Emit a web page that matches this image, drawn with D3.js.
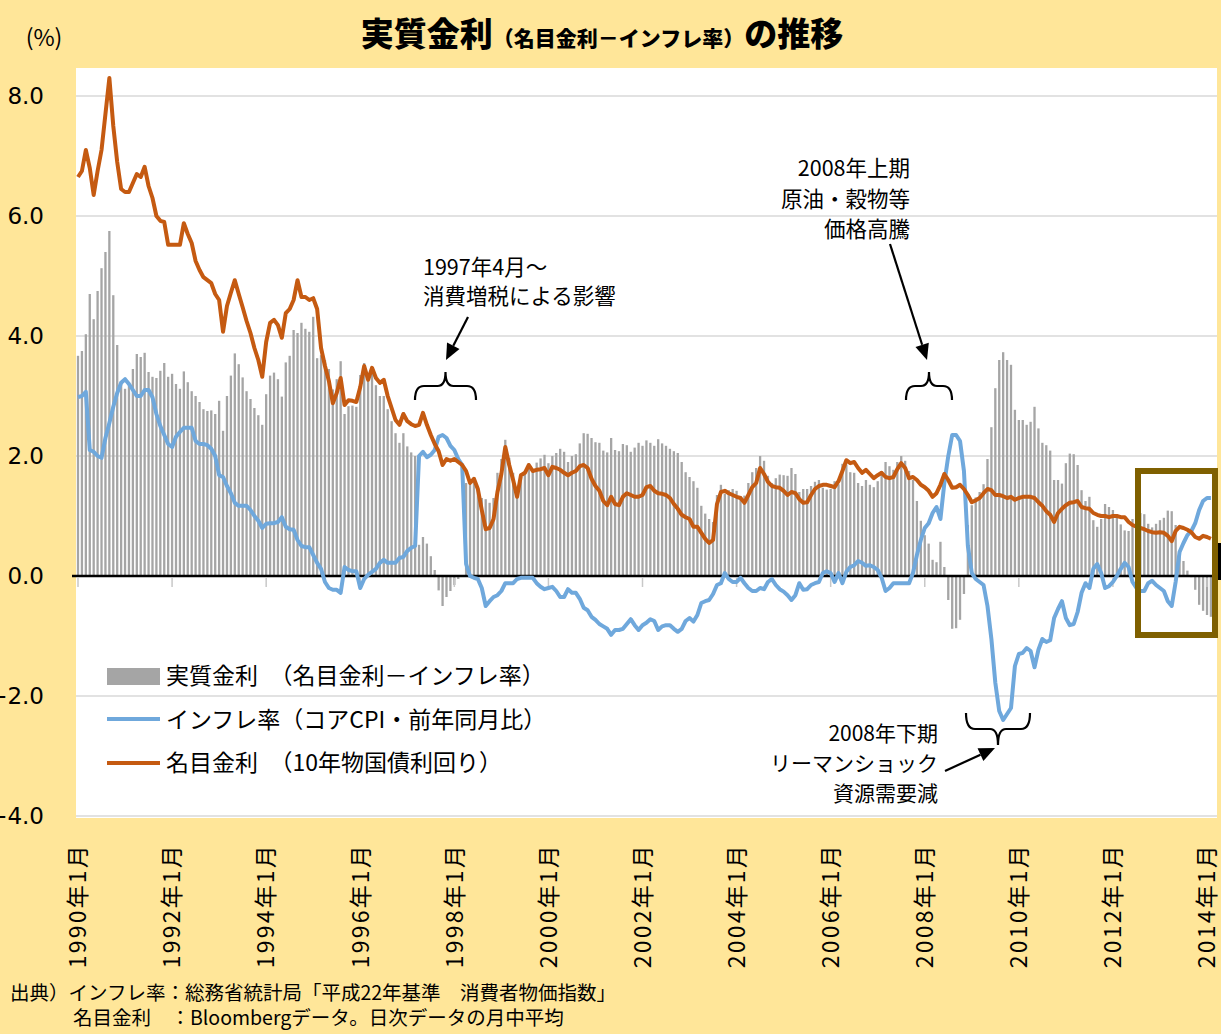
<!DOCTYPE html>
<html><head><meta charset="utf-8">
<script src="https://cdn.jsdelivr.net/npm/d3@7"></script>
<style>body{margin:0;background:#FFE699;} svg{display:block;}</style>
</head><body>
<svg id="c" width="1221" height="1034"></svg>
<script>
// Monthly data, 1990年1月 .. 2014年2月
const startYear = 1990;
const nominal = [
 6.65,6.75,7.10,6.80,6.35,6.75,7.10,7.70,8.30,7.50,6.90,6.45,
 6.40,6.40,6.55,6.70,6.65,6.82,6.50,6.30,6.00,5.92,5.90,5.52,
 5.52,5.52,5.52,5.88,5.70,5.55,5.25,5.10,4.98,4.93,4.88,4.70,
 4.60,4.07,4.50,4.72,4.93,4.70,4.48,4.25,4.05,3.80,3.60,3.32,
 3.90,4.22,4.27,4.18,3.97,4.38,4.45,4.60,4.93,4.65,4.65,4.60,
 4.63,4.45,3.80,3.50,3.25,2.88,3.05,3.30,2.85,2.93,2.92,2.90,
 3.15,3.50,3.27,3.47,3.30,3.22,3.27,3.00,2.80,2.60,2.52,2.70,
 2.58,2.53,2.50,2.52,2.72,2.52,2.35,2.20,2.08,1.85,1.95,1.92,
 1.95,1.90,1.85,1.75,1.55,1.62,1.45,1.10,0.78,0.80,0.95,1.40,
 1.70,2.15,1.85,1.60,1.32,1.68,1.72,1.85,1.75,1.77,1.78,1.80,
 1.68,1.82,1.80,1.77,1.72,1.68,1.72,1.75,1.83,1.85,1.80,1.62,
 1.50,1.42,1.25,1.18,1.32,1.20,1.18,1.32,1.38,1.35,1.32,1.32,
 1.35,1.48,1.50,1.42,1.38,1.37,1.35,1.30,1.20,1.12,1.02,0.98,
 0.95,0.82,0.82,0.72,0.62,0.55,0.60,1.20,1.40,1.42,1.38,1.35,
 1.32,1.30,1.22,1.35,1.48,1.55,1.80,1.70,1.57,1.50,1.48,1.47,
 1.42,1.35,1.40,1.38,1.28,1.22,1.23,1.35,1.45,1.50,1.52,1.52,
 1.50,1.48,1.58,1.75,1.93,1.88,1.90,1.80,1.72,1.77,1.70,1.63,
 1.68,1.72,1.65,1.63,1.65,1.78,1.88,1.80,1.63,1.65,1.60,1.52,
 1.48,1.42,1.32,1.38,1.52,1.70,1.60,1.47,1.48,1.52,1.45,1.35,
 1.23,1.26,1.30,1.38,1.45,1.43,1.35,1.35,1.33,1.30,1.32,1.27,
 1.30,1.32,1.32,1.32,1.30,1.23,1.17,1.08,1.02,0.90,1.05,1.12,
 1.18,1.22,1.23,1.25,1.15,1.13,1.12,1.05,1.02,1.00,1.00,0.98,
 1.00,1.00,0.98,0.98,0.90,0.85,0.82,0.80,0.78,0.75,0.73,0.72,
 0.73,0.72,0.67,0.58,0.75,0.82,0.80,0.77,0.73,0.65,0.62,0.67,
 0.65,0.62
];
const inflation = [
 2.98,3.00,3.07,2.10,2.07,2.00,1.97,2.30,2.55,2.82,3.05,3.22,
 3.28,3.20,3.10,3.00,3.00,3.10,3.10,2.98,2.70,2.50,2.35,2.20,
 2.15,2.32,2.40,2.47,2.47,2.47,2.25,2.20,2.20,2.18,2.12,2.00,
 1.68,1.65,1.50,1.38,1.22,1.17,1.17,1.17,1.10,1.00,0.92,0.80,
 0.87,0.88,0.88,0.90,0.98,0.82,0.78,0.77,0.60,0.50,0.48,0.48,
 0.35,0.22,0.12,-0.10,-0.20,-0.23,-0.23,-0.28,0.15,0.10,0.08,0.08,
 -0.20,-0.05,0.02,0.07,0.12,0.22,0.27,0.22,0.22,0.22,0.30,0.32,
 0.42,0.47,0.50,2.00,2.07,1.98,2.02,2.10,2.32,2.35,2.30,2.17,
 2.10,1.95,1.85,0.20,0.00,-0.03,-0.05,-0.20,-0.50,-0.42,-0.35,-0.32,
 -0.25,-0.12,-0.12,-0.12,-0.05,-0.03,-0.03,-0.03,-0.03,-0.12,-0.18,-0.22,
 -0.20,-0.18,-0.25,-0.35,-0.35,-0.22,-0.28,-0.28,-0.38,-0.53,-0.57,-0.68,
 -0.73,-0.80,-0.84,-0.88,-0.98,-0.90,-0.90,-0.88,-0.80,-0.72,-0.82,-0.90,
 -0.82,-0.78,-0.72,-0.75,-0.90,-0.84,-0.82,-0.82,-0.88,-0.93,-0.88,-0.75,
 -0.70,-0.76,-0.65,-0.45,-0.42,-0.40,-0.30,-0.15,-0.12,0.05,-0.05,-0.10,
 -0.10,-0.03,-0.12,-0.20,-0.25,-0.25,-0.20,-0.22,-0.10,-0.05,-0.15,-0.22,
 -0.26,-0.32,-0.40,-0.32,-0.12,-0.23,-0.22,-0.15,-0.12,-0.10,0.05,0.08,
 0.05,-0.10,0.05,-0.12,0.07,0.15,0.18,0.25,0.22,0.17,0.18,0.15,
 0.10,-0.03,-0.25,-0.20,-0.12,-0.12,-0.12,-0.12,-0.12,0.05,0.35,0.60,
 0.80,0.88,1.05,1.15,0.95,1.55,2.00,2.35,2.35,2.25,1.75,0.50,
 0.05,-0.05,-0.10,-0.15,-0.50,-1.05,-1.78,-2.25,-2.40,-2.30,-2.20,-1.50,
 -1.30,-1.28,-1.20,-1.25,-1.52,-1.23,-1.05,-1.10,-1.07,-0.70,-0.55,-0.42,
 -0.70,-0.82,-0.80,-0.60,-0.28,-0.12,-0.20,0.12,0.20,0.05,-0.20,-0.17,
 -0.10,0.00,0.12,0.22,0.15,-0.10,-0.20,-0.25,-0.25,-0.12,-0.08,-0.15,
 -0.20,-0.25,-0.42,-0.50,-0.10,0.40,0.55,0.68,0.75,0.88,1.10,1.25,
 1.30,1.30
];
const realRate = [
 3.67,3.75,4.03,4.70,4.28,4.75,5.13,5.40,5.75,4.68,3.85,3.23,
 3.12,3.20,3.45,3.70,3.65,3.72,3.40,3.32,3.30,3.42,3.55,3.32,
 3.37,3.20,3.12,3.41,3.23,3.08,3.00,2.90,2.78,2.75,2.76,2.70,
 2.92,2.42,3.00,3.34,3.71,3.53,3.31,3.08,2.95,2.80,2.68,2.52,
 3.03,3.34,3.39,3.28,2.99,3.56,3.67,4.10,4.05,4.22,4.12,4.07,
 4.32,3.63,3.68,3.60,3.45,3.11,3.28,3.58,2.70,2.83,2.84,2.82,
 3.35,3.55,3.25,3.40,3.18,3.00,3.00,2.78,2.58,2.38,2.22,2.38,
 2.16,2.06,2.00,0.52,0.65,0.54,0.33,0.10,-0.24,-0.50,-0.35,-0.25,
 -0.15,-0.05,0.00,1.55,1.55,1.65,1.50,1.30,1.28,1.22,1.30,1.72,
 1.95,2.27,1.97,1.72,1.37,1.71,1.75,1.88,1.78,1.89,1.96,2.02,
 1.88,2.00,2.05,2.12,2.07,1.90,2.00,2.03,2.21,2.38,2.37,2.30,
 2.23,2.22,2.09,2.06,2.30,2.10,2.08,2.20,2.18,2.07,2.14,2.22,
 2.17,2.26,2.22,2.17,2.28,2.21,2.17,2.12,2.08,2.05,1.90,1.73,
 1.65,1.58,1.47,1.17,1.04,0.95,0.90,1.35,1.52,1.37,1.43,1.45,
 1.42,1.33,1.34,1.55,1.73,1.80,2.00,1.92,1.67,1.55,1.63,1.69,
 1.68,1.67,1.80,1.70,1.40,1.45,1.45,1.50,1.57,1.60,1.47,1.44,
 1.45,1.58,1.53,1.87,1.86,1.73,1.72,1.55,1.50,1.60,1.52,1.48,
 1.58,1.75,1.90,1.83,1.77,1.90,2.00,1.92,1.75,1.60,1.25,0.92,
 0.68,0.54,0.27,0.23,0.57,0.15,-0.40,-0.88,-0.87,-0.73,-0.30,0.85,
 1.18,1.31,1.40,1.53,1.95,2.48,3.13,3.60,3.73,3.60,3.52,2.77,
 2.60,2.60,2.52,2.57,2.82,2.46,2.22,2.18,2.09,1.60,1.60,1.54,
 1.88,2.04,2.03,1.85,1.43,1.25,1.32,0.93,0.82,0.95,1.20,1.15,
 1.10,1.00,0.86,0.76,0.75,0.95,1.02,1.05,1.03,0.87,0.81,0.87,
 0.93,0.97,1.09,1.08,0.85,0.42,0.25,0.09,-0.02,-0.23,-0.48,-0.58,
 -0.65,-0.68
];
const yTicks = [-4, -2, 0, 2, 4, 6, 8];
const xTickLabels = ["1990年1月","1992年1月","1994年1月","1996年1月","1998年1月","2000年1月","2002年1月","2004年1月","2006年1月","2008年1月","2010年1月","2012年1月","2014年1月"];
const legendLabels = ["実質金利　（名目金利－インフレ率）","インフレ率（コアCPI・前年同月比）","名目金利　（10年物国債利回り）"];
const notes1997 = ["1997年4月～","消費増税による影響"];
const notes2008a = ["2008年上期","原油・穀物等","価格高騰"];
const notes2008b = ["2008年下期","リーマンショック","資源需要減"];
const sourceLines = ["出典）インフレ率：総務省統計局「平成22年基準　消費者物価指数」","名目金利　：Bloombergデータ。日次データの月中平均"];

const JP = '"Noto Sans CJK JP", "Noto Sans", sans-serif';
const svg = d3.select('#c');
const W = 1221, H = 1034;
const plot = {left: 76, right: 1217, top: 68, bottom: 818};
const x = d3.scaleLinear().domain([0, 288]).range([78, 1207]);
const y = d3.scaleLinear().domain([-4, 8]).range([816, 96]);

svg.append('rect').attr('width', W).attr('height', H).attr('fill', '#FFE699');
svg.append('rect').attr('x', plot.left).attr('y', plot.top)
  .attr('width', plot.right - plot.left).attr('height', plot.bottom - plot.top).attr('fill', '#fff');

// gridlines
svg.append('g').selectAll('line').data(yTicks.filter(d => d !== 0)).join('line')
  .attr('x1', plot.left).attr('x2', plot.right)
  .attr('y1', d => y(d)).attr('y2', d => y(d))
  .attr('stroke', '#D9D9D9').attr('stroke-width', 1.5);

// y labels
svg.append('g').selectAll('text').data(yTicks).join('text')
  .attr('x', 44).attr('y', d => y(d)).attr('dy', '0.36em')
  .attr('text-anchor', 'end').attr('font-family', '"DejaVu Sans", sans-serif')
  .attr('font-size', 23).attr('fill', '#000').text(d => d3.format('.1f')(d));
svg.append('text').attr('x', 44).attr('y', 46).attr('text-anchor', 'middle')
  .attr('font-family', JP).attr('font-size', 23).text('(%)');

// bars
const idx = d3.range(realRate.length);
svg.append('g').selectAll('rect').data(idx).join('rect')
  .attr('x', i => x(i) - 1.15).attr('width', 2.3)
  .attr('y', i => Math.min(y(realRate[i]), y(0)))
  .attr('height', i => Math.abs(y(realRate[i]) - y(0)))
  .attr('fill', '#A5A5A5');

// zero line
svg.append('line').attr('x1', 72).attr('x2', plot.right)
  .attr('y1', y(0)).attr('y2', y(0)).attr('stroke', '#000').attr('stroke-width', 2.5);
// x ticks
const tickIdx = xTickLabels.map((d, k) => k * 24);
svg.append('g').selectAll('line').data(tickIdx).join('line')
  .attr('x1', d => x(d)).attr('x2', d => x(d))
  .attr('y1', y(0) + 2).attr('y2', y(0) + 11)
  .attr('stroke', '#C8C8C8').attr('stroke-width', 1.5);

// lines
const lineGen = arr => d3.line().x((d, i) => x(i)).y(d => y(d))(arr);
svg.append('path').attr('d', lineGen(inflation)).attr('fill', 'none')
  .attr('stroke', '#6FA8DC').attr('stroke-width', 4).attr('stroke-linejoin', 'round');
svg.append('path').attr('d', lineGen(nominal)).attr('fill', 'none')
  .attr('stroke', '#C55A11').attr('stroke-width', 4).attr('stroke-linejoin', 'round');

// x labels (rotated)
svg.append('g').selectAll('text').data(xTickLabels).join('text')
  .attr('transform', (d, k) => `translate(${x(k * 24)},843) rotate(-90)`)
  .attr('dy', '0.36em').attr('text-anchor', 'end').attr('letter-spacing', 2.2)
  .attr('font-family', JP).attr('font-size', 23).attr('fill', '#000').text(d => d);

// title
const title = svg.append('text').attr('x', 602).attr('y', 46).attr('text-anchor', 'middle')
  .attr('font-family', JP).attr('font-weight', 900).attr('fill', '#000');
title.append('tspan').attr('font-size', 33).text('実質金利');
title.append('tspan').attr('font-size', 21).text('（名目金利－インフレ率）');
title.append('tspan').attr('font-size', 33).text('の推移');

// legend
const lg = svg.append('g').attr('font-family', JP).attr('font-size', 23);
lg.append('rect').attr('x', 107).attr('y', 668).attr('width', 53).attr('height', 17).attr('fill', '#A5A5A5');
lg.append('line').attr('x1', 107).attr('x2', 160).attr('y1', 719).attr('y2', 719).attr('stroke', '#6FA8DC').attr('stroke-width', 4);
lg.append('line').attr('x1', 107).attr('x2', 160).attr('y1', 763).attr('y2', 763).attr('stroke', '#C55A11').attr('stroke-width', 4);
lg.selectAll('text').data(legendLabels).join('text')
  .attr('x', 166).attr('y', (d, i) => 676 + i * 43.5).attr('dy', '0.36em').text(d => d);

// annotations
const ann = svg.append('g').attr('font-family', JP).attr('font-size', 21.5).attr('fill', '#000');
ann.selectAll('text.a').data(notes1997).join('text').attr('class', 'a')
  .attr('x', 423).attr('y', (d, i) => 275 + i * 29).text(d => d);
ann.selectAll('text.b').data(notes2008a).join('text').attr('class', 'b')
  .attr('x', 910).attr('y', (d, i) => 176 + i * 30.5).attr('text-anchor', 'end').text(d => d);
ann.selectAll('text.c').data(notes2008b).join('text').attr('class', 'c')
  .attr('x', 938).attr('y', (d, i) => 741 + i * 30).attr('text-anchor', 'end')
  .attr('font-size', 21).text(d => d);

function brace(x1, x2, yEnd, yTip) {
  const xm = (x1 + x2) / 2, ym = yEnd + (yTip - yEnd) * 0.5;
  return `M${x1},${yEnd} Q${x1},${ym} ${x1 + 9},${ym} L${xm - 8},${ym} Q${xm},${ym} ${xm},${yTip} ` +
         `Q${xm},${ym} ${xm + 8},${ym} L${x2 - 9},${ym} Q${x2},${ym} ${x2},${yEnd}`;
}
[[415, 476, 400, 372], [906, 952, 400, 372], [966, 1030, 713, 745]].forEach(b => {
  svg.append('path').attr('d', brace(...b)).attr('fill', 'none').attr('stroke', '#000').attr('stroke-width', 2.2);
});
function arrow(x1, y1, x2, y2) {
  const a = Math.atan2(y2 - y1, x2 - x1), L = 16, Wd = 7;
  const bx = x2 - L * Math.cos(a), by = y2 - L * Math.sin(a);
  svg.append('line').attr('x1', x1).attr('y1', y1).attr('x2', bx).attr('y2', by)
    .attr('stroke', '#000').attr('stroke-width', 2.2);
  const px = -Math.sin(a) * Wd, py = Math.cos(a) * Wd;
  svg.append('path').attr('d', `M${x2},${y2} L${bx + px},${by + py} L${bx - px},${by - py} Z`).attr('fill', '#000');
}
arrow(468, 317, 446, 360);
arrow(890, 244, 927, 360);
arrow(945, 771, 995, 748);

// highlight box and right-edge mark
svg.append('rect').attr('x', 1138).attr('y', 471).attr('width', 77).attr('height', 164)
  .attr('fill', 'none').attr('stroke', '#7F6000').attr('stroke-width', 6);
svg.append('rect').attr('x', 1218).attr('y', 543).attr('width', 4).attr('height', 37).attr('fill', '#000');

// source
svg.append('g').attr('font-family', JP).attr('font-size', 19.5).selectAll('text').data(sourceLines).join('text')
  .attr('x', (d, i) => i === 0 ? 10 : 73).attr('y', (d, i) => 1000 + i * 25).text(d => d);
</script>
</body></html>
